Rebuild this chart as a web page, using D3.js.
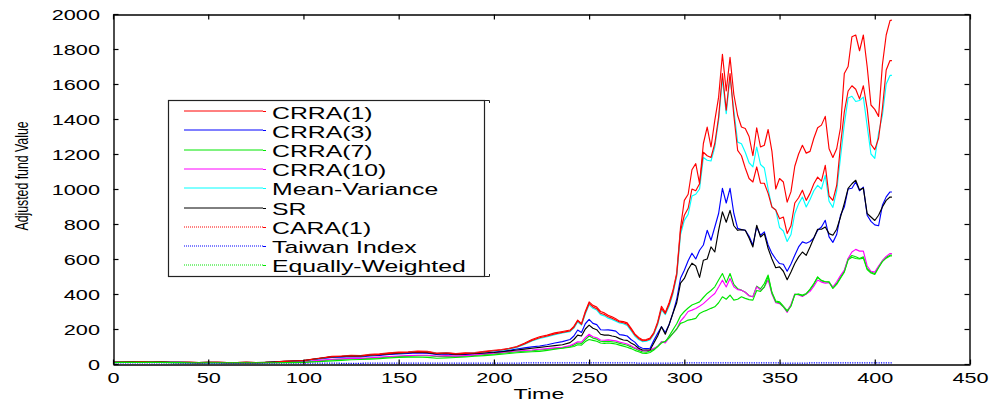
<!DOCTYPE html>
<html>
<head>
<meta charset="utf-8">
<script src="https://cdn.jsdelivr.net/npm/d3@7"></script>
<style>
  body { margin: 0; background: #fff; }
  text { font-family: "Liberation Sans", Arial, Helvetica, sans-serif; fill: #000; }
</style>
</head>
<body>
<svg id="chart" width="997" height="405"></svg>
<script>
// Trading days at which each fund value is recorded
const days = [
  0,5,10,15,20,25,30,35,40,45,50,55,60,65,70,75,80,85,90,95,
  100,105,110,115,120,125,130,135,140,145,150,155,160,165,170,175,180,185,190,195,
  200,204,208,212,216,220,224,228,232,236,240,
  242,244,246,248,250,252,254,256,258,260,
  262,264,266,268,270,272,274,276,278,280,
  282,284,286,288,290,292,294,296,298,300,
  302,304,306,308,310,312,314,316,318,320,
  322,324,326,328,330,332,334,336,338,340,
  342,344,346,348,350,352,354,356,358,360,
  362,364,366,368,370,372,374,376,378,380,
  382,384,386,388,390,392,394,396,398,400,
  402,404,406,408,409
];

// Adjusted fund value of each strategy
const crra1 = [
  10,11,12,12,11,12,10,9,9,8, 9,9,8,8,9,8,9,12,16,18,
  20,28,36,44,46,50,48,55,58,64, 68,70,74,72,62,66,60,64,66,72,
  78,82,90,100,118,140,156,165,178,186,194,
  215,251,230,300,355,335,325,300,292,278,
  270,258,245,242,235,205,172,152,138,140,
  148,180,240,330,295,350,420,520,780,935,
  970,1110,1145,1030,1260,1354,1240,1392,1525,1770,
  1560,1752,1540,1420,1354,1346,1300,1190,1350,1240,
  1250,1340,1215,1000,1060,1040,925,985,1130,1200,
  1250,1205,1215,1290,1350,1365,1415,1230,1180,1230,
  1350,1660,1700,1870,1880,1790,1880,1700,1480,1455,
  1415,1710,1880,1962,1966
];
const crra3 = [
  10,10,11,11,10,11,9,9,8,8, 8,8,8,8,8,8,8,10,13,15,
  17,24,30,37,39,42,41,46,49,54, 58,60,63,62,54,57,52,55,57,62,
  68,72,78,86,92,98,103,110,120,128,140,
  160,194,180,230,255,232,225,196,194,195,
  192,188,168,165,160,140,125,100,90,88,
  90,135,175,213,180,225,290,370,490,536,
  590,633,600,650,680,764,707,783,860,1004,
  920,1004,860,775,768,764,730,680,783,736,
  755,680,632,600,574,570,530,572,621,669,
  698,690,700,720,764,783,821,726,695,740,
  850,897,1000,1004,1040,990,1011,850,815,795,
  790,907,955,983,983
];
const crra7 = [
  9,10,10,10,9,10,9,8,8,8, 8,8,7,7,7,7,7,8,9,11,
  12,16,20,25,27,30,30,33,36,40, 43,45,47,47,43,45,42,45,49,54,
  58,62,66,70,73,76,80,84,88,92,100,
  108,120,118,140,160,148,142,130,128,130,
  127,124,118,113,107,98,88,78,70,68,
  75,85,100,127,125,160,195,230,275,300,
  320,337,346,355,380,403,420,441,480,517,
  465,517,455,430,422,410,390,384,445,430,
  460,508,410,360,355,330,305,335,395,400,
  394,403,425,455,498,475,470,470,435,460,
  495,530,600,620,613,603,612,545,526,517,
  555,590,610,622,622
];
const crra10 = [
  9,10,10,10,10,10,9,8,8,8, 8,8,8,7,8,7,7,8,10,12,
  13,18,22,27,29,32,32,36,39,43, 46,48,50,50,46,48,45,48,52,57,
  62,66,70,74,77,80,84,88,92,96,105,
  115,127,125,150,170,156,150,137,136,138,
  135,132,125,120,114,104,92,84,76,74,
  80,90,100,127,120,150,175,200,245,270,
  300,308,317,330,345,365,385,403,440,479,
  440,489,441,425,422,410,390,384,441,422,
  440,480,400,350,345,327,295,340,400,394,
  386,400,415,445,480,468,462,465,440,470,
  505,536,603,640,655,645,645,560,530,525,
  560,590,615,631,631
];
const meanVar = [
  10,11,11,11,11,11,10,9,8,8, 9,8,8,8,8,8,9,11,14,16,
  18,26,33,40,43,46,45,51,54,59, 63,66,69,68,59,62,57,60,62,68,
  74,78,85,95,111,131,146,156,168,177,185,
  205,240,222,285,338,318,308,282,275,262,
  255,245,234,230,220,190,160,140,128,130,
  138,170,225,310,282,330,400,500,740,821,
  855,960,970,1000,1180,1164,1160,1240,1392,1630,
  1430,1640,1450,1268,1259,1210,1150,1126,1240,1140,
  1120,1000,897,880,780,760,700,740,860,915,
  954,897,940,990,1021,1000,1078,930,895,990,
  1180,1370,1520,1530,1500,1506,1525,1360,1200,1175,
  1320,1420,1600,1649,1649
];
const sr = [
  10,11,12,12,11,12,10,9,9,8, 9,9,8,8,9,8,9,12,16,17,
  19,27,34,41,43,46,45,50,53,58, 62,64,67,65,57,60,55,58,60,63,
  66,70,75,80,85,90,95,100,105,110,122,
  140,165,160,200,222,204,196,170,165,166,
  160,156,145,137,135,120,108,90,80,80,
  80,120,160,213,170,225,290,350,462,489,
  540,576,560,495,593,600,669,640,764,869,
  810,878,790,764,768,764,720,669,793,726,
  745,660,600,550,555,530,482,526,574,612,
  640,621,669,720,770,770,783,745,736,770,
  840,918,1004,1030,1050,995,1005,860,840,820,
  850,897,935,954,954
];
const cara1 = [
  10,11,11,12,11,11,10,9,9,8, 9,9,8,8,9,8,9,11,15,17,
  19,27,34,42,44,47,46,52,55,61, 65,67,71,69,60,63,58,61,63,69,
  76,80,87,97,114,135,150,160,172,181,189,
  210,246,226,292,346,326,316,290,283,270,
  262,251,240,236,228,198,166,146,133,135,
  143,175,232,318,288,340,410,510,760,850,
  890,1000,990,1030,1210,1190,1180,1260,1410,1660,
  1450,1660,1420,1221,1190,1120,1060,1040,1126,1033,
  1033,975,897,880,830,840,746,790,920,950,
  993,935,975,1030,1068,1045,1135,960,935,1020,
  1250,1440,1560,1590,1570,1515,1590,1460,1255,1225,
  1290,1460,1680,1734,1734
];
const taiwanIndex = [
  6,6,6,6,6,6,6,5,5,5, 5,5,5,5,5,5,5,5,5,5,
  5,5,5,5,4,4,4,5,5,5, 5,5,5,5,5,5,5,5,5,5,
  5,5,5,5,6,6,6,6,6,6,6,
  6,6,6,7,7,7,7,7,6,6,
  6,6,6,6,6,6,6,5,5,5,
  5,5,5,5,5,5,5,5,6,6,
  6,6,6,6,6,6,6,6,6,7,
  7,7,6,6,6,6,6,6,6,6,
  6,6,6,6,6,5,5,5,5,5,
  5,5,6,6,6,6,6,6,6,6,
  6,6,7,7,7,7,7,7,6,6,
  6,6,6,6,6
];
const equalWeighted = [
  8,9,9,9,9,9,8,8,7,7, 7,7,7,7,7,7,7,7,8,8,
  9,12,15,18,21,24,26,28,31,35, 38,39,40,38,33,35,37,40,44,48,
  52,56,60,64,67,70,72,78,84,90,96,
  100,110,108,128,140,135,130,120,118,120,
  118,114,108,102,96,88,78,70,62,60,
  66,80,100,120,130,150,175,200,232,240,
  251,255,261,289,300,308,318,327,350,384,
  370,394,365,370,384,375,368,365,420,415,
  440,500,405,355,350,327,300,330,398,398,
  390,400,428,460,495,478,470,468,432,455,
  490,525,595,610,603,600,605,540,520,512,
  550,585,605,617,617
];

const seriesNames = ["CRRA(1)","CRRA(3)","CRRA(7)","CRRA(10)","Mean-Variance","SR","CARA(1)","Taiwan Index","Equally-Weighted"];
const seriesValues = [crra1, crra3, crra7, crra10, meanVar, sr, cara1, taiwanIndex, equalWeighted];
const seriesColors = ["#ff0000","#0000ff","#00e600","#ff00ff","#00ffff","#000000","#ff0000","#0000ff","#00e600"];
const legendDotted = [false,false,false,false,false,false,true,true,true];
const plotDotted   = [false,false,false,false,false,false,false,true,false];

const xTicks = [0,50,100,150,200,250,300,350,400,450];
const yTicks = [0,200,400,600,800,1000,1200,1400,1600,1800,2000];

const STRETCH = 1.55;   // wide lettering used throughout the figure

const svg = d3.select("#chart");
const x = d3.scaleLinear().domain([0, 450]).range([113, 970]);
const y = d3.scaleLinear().domain([0, 2000]).range([364, 14]);

// data lines (clipped to the axes box)
svg.append("clipPath").attr("id", "plotClip")
  .append("rect").attr("x", 113).attr("y", 10).attr("width", 857).attr("height", 356);

const line = d3.line()
  .x((d, i) => x(days[i]))
  .y(d => y(d));

const plot = svg.append("g").attr("clip-path", "url(#plotClip)");
seriesValues.forEach((vals, k) => {
  plot.append("path")
    .attr("d", line(vals))
    .attr("fill", "none")
    .attr("stroke", seriesColors[k])
    .attr("stroke-width", plotDotted[k] ? 1.3 : 1.15)
    .attr("stroke-dasharray", plotDotted[k] ? "1.2,1.2" : null)
    .attr("stroke-linejoin", "round");
});

// axes with inward ticks on all four sides
const tickLen = 5;
const gx = svg.append("g").attr("transform", "translate(0,364.5)")
  .call(d3.axisBottom(x).tickValues(xTicks).tickSize(-tickLen).tickSizeOuter(0).tickFormat(d3.format("d")));
gx.selectAll("text")
  .attr("y", 0).attr("dy", 0)
  .attr("transform", `translate(0,18.5) scale(${STRETCH},1)`)
  .style("font-size", "14px");

const gxTop = svg.append("g").attr("transform", "translate(0,14.5)")
  .call(d3.axisTop(x).tickValues(xTicks).tickSize(-tickLen).tickSizeOuter(0).tickFormat(""));

const gy = svg.append("g").attr("transform", "translate(113.5,0)")
  .call(d3.axisLeft(y).tickValues(yTicks).tickSize(-tickLen).tickSizeOuter(0).tickFormat(d3.format("d")));
gy.selectAll("text")
  .attr("x", 0).attr("dy", 0)
  .attr("transform", `translate(-13.5,5) scale(${STRETCH},1)`)
  .style("font-size", "14px");

const gyRight = svg.append("g").attr("transform", "translate(969.5,0)")
  .call(d3.axisRight(y).tickValues(yTicks).tickSize(-tickLen).tickSizeOuter(0).tickFormat(""));

[gx, gxTop, gy, gyRight].forEach(g => {
  g.select(".domain").attr("stroke", "#000").attr("stroke-width", 1.4);
  g.selectAll(".tick line").attr("stroke", "#000").attr("stroke-width", 1.2);
});
gx.selectAll(".tick text").attr("fill", "#000");
gy.selectAll(".tick text").attr("fill", "#000");

// axis titles
svg.append("text")
  .attr("transform", `translate(539,399) scale(${STRETCH},1)`)
  .attr("text-anchor", "middle")
  .style("font-size", "15px")
  .text("Time");

svg.append("text")
  .attr("transform", `translate(28,176) scale(${STRETCH},1) rotate(-90)`)
  .attr("text-anchor", "middle")
  .style("font-size", "12.3px")
  .text("Adjusted fund Value");

// legend
const legend = svg.append("g");
legend.append("rect")
  .attr("x", 168.5).attr("y", 100.5).attr("width", 316).attr("height", 176)
  .attr("fill", "#fff").attr("stroke", "#222").attr("stroke-width", 1.2);
legend.append("path")
  .attr("d", "M484.5,100.5H489.5V103 M484.5,276.5H489.5V274")
  .attr("fill", "none").attr("stroke", "#222").attr("stroke-width", 1);

seriesNames.forEach((name, i) => {
  const ly = Math.round(111 + i * 19.3);
  legend.append("line")
    .attr("x1", 184).attr("x2", 263).attr("y1", ly).attr("y2", ly)
    .attr("stroke", seriesColors[i])
    .attr("stroke-width", 1)
    .attr("stroke-dasharray", legendDotted[i] ? "1,1" : null);
  legend.append("line")
    .attr("x1", 263).attr("x2", 266).attr("y1", ly + 0.5).attr("y2", ly + 0.5)
    .attr("stroke", seriesColors[i]).attr("stroke-width", 1);
  legend.append("text")
    .attr("transform", `translate(272,${119 + i * 19.1}) scale(${STRETCH},1)`)
    .style("font-size", "16px")
    .text(name);
});
</script>
</body>
</html>
